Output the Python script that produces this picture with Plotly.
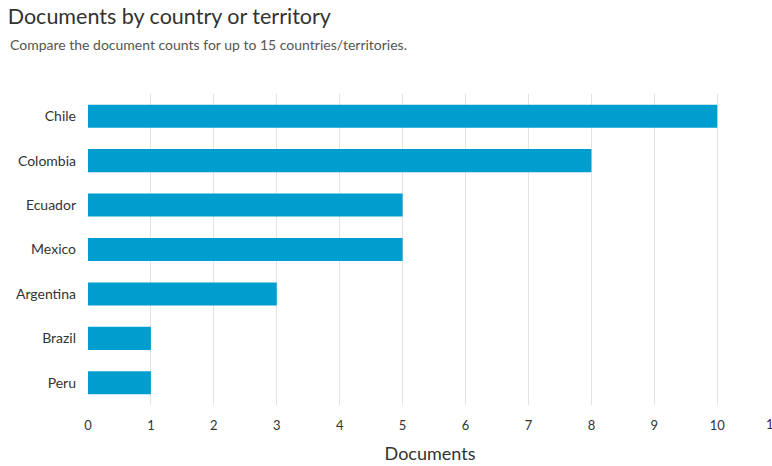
import plotly.graph_objects as go

countries = ["Chile", "Colombia", "Ecuador", "Mexico", "Argentina", "Brazil", "Peru"]
documents = [10, 8, 5, 5, 3, 1, 1]
tick_values = list(range(0, 12))

W, H = 772, 466
x_max = 10.87
FONT = "Lato"

fig = go.Figure()
fig.add_trace(go.Bar(
    x=documents,
    y=countries,
    orientation="h",
    marker=dict(color="#009ECE", line=dict(width=0)),
    hoverinfo="x+y",
))

annotations = []
# tick labels beyond the visible range (partially cut off at the edge, as in the reference)
for t in tick_values:
    if t > x_max:
        annotations.append(dict(x=t / x_max, y=0, xref="paper", yref="paper",
                                xanchor="left", yanchor="top",
                                yshift=-9, xshift=-16, text=str(t), showarrow=False,
                                font=dict(family=FONT, size=13, color="#333333")))

annotations.append(dict(
    text="Compare the document counts for up to 15 countries/territories.",
    xref="paper", yref="paper", x=0, y=1, xanchor="left", yanchor="middle",
    xshift=-80, yshift=50, showarrow=False,
    font=dict(family=FONT, size=14, color="#555555")))

fig.update_layout(
    width=W, height=H,
    margin=dict(l=88, r=0, t=94, b=61),
    paper_bgcolor="white",
    plot_bgcolor="white",
    bargap=0.48,
    showlegend=False,
    font=dict(family=FONT, color="#333333"),
    title=dict(
        text="Documents by country or territory",
        x=0.01, xanchor="left", y=1 - 9 / H, yanchor="top",
        font=dict(family=FONT, size=21.5, color="#323232"),
    ),
    annotations=annotations,
    xaxis=dict(
        range=[0, x_max],
        tickmode="array", tickvals=tick_values,
        showgrid=True, gridcolor="#e3e3e3", gridwidth=1,
        zeroline=False, showline=False,
        ticks="", ticklabelstandoff=11,
        tickfont=dict(family=FONT, size=13, color="#333333"),
        title=dict(text="Documents", font=dict(family=FONT, size=18, color="#333333"), standoff=15),
    ),
    yaxis=dict(
        autorange="reversed",
        showgrid=False, zeroline=False, showline=False,
        ticks="", ticklabelstandoff=11,
        tickfont=dict(family=FONT, size=14, color="#333333"),
    ),
)

fig.write_html("out.html", config={"displayModeBar": False},
               post_script="document.body.style.margin='0';")
